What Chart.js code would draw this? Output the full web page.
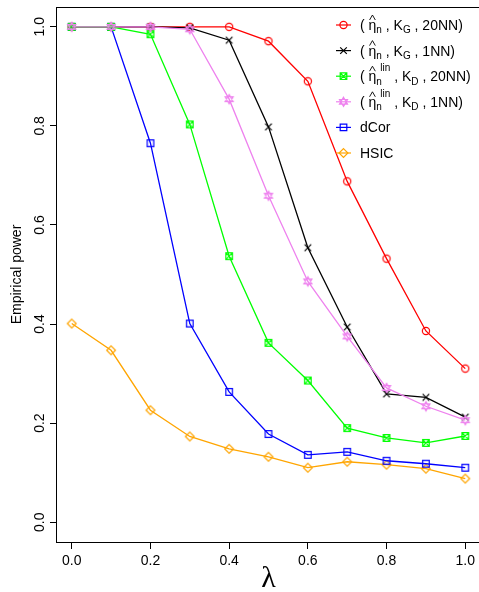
<!DOCTYPE html>
<html>
<head>
<meta charset="utf-8">
<script src="https://cdn.jsdelivr.net/npm/chart.js@4.4.1/dist/chart.umd.min.js"></script>
<style>
  html, body { margin: 0; padding: 0; background: #fff; overflow: hidden; }
  #wrap { width: 500px; height: 592px; }
</style>
</head>
<body>
<div id="wrap"><canvas id="powerChart" width="500" height="592"></canvas></div>
<script>
// valores
const lambdas = [0.0, 0.1, 0.2, 0.3, 0.4, 0.5, 0.6, 0.7, 0.8, 0.9, 1.0];
const etaG20 = [1.0, 1.0, 1.0, 1.0, 1.0, 0.971, 0.890, 0.688, 0.532, 0.386, 0.310];
const etaG1 = [1.0, 1.0, 1.0, 0.998, 0.973, 0.798, 0.554, 0.394, 0.259, 0.252, 0.212];
const linD20 = [1.0, 1.0, 0.985, 0.803, 0.537, 0.362, 0.286, 0.190, 0.170, 0.160, 0.174];
const linD1 = [1.0, 1.0, 1.0, 0.995, 0.854, 0.659, 0.486, 0.375, 0.271, 0.234, 0.206];
const dcor = [1.0, 1.0, 0.765, 0.401, 0.263, 0.178, 0.136, 0.142, 0.124, 0.118, 0.110];
const hsic = [0.401, 0.347, 0.226, 0.173, 0.148, 0.132, 0.110, 0.122, 0.116, 0.108, 0.088];

const xTicks = [0.0, 0.2, 0.4, 0.6, 0.8, 1.0];
const yTicks = [0.0, 0.2, 0.4, 0.6, 0.8, 1.0];

const FONT = '"Liberation Sans", Arial, sans-serif';

// dibuja los simbolos tipo pch de R
function drawMarker(ctx, shape, x, y, color) {
  ctx.save();
  ctx.strokeStyle = color;
  ctx.lineWidth = 1.2;
  ctx.beginPath();
  const r = 3.3;
  if (shape === 'circle') {
    ctx.arc(x, y, 3.6, 0, Math.PI * 2);
  } else if (shape === 'cross') {
    ctx.moveTo(x - r, y - r); ctx.lineTo(x + r, y + r);
    ctx.moveTo(x + r, y - r); ctx.lineTo(x - r, y + r);
  } else if (shape === 'boxX') {
    ctx.rect(x - r, y - r, 2 * r, 2 * r);
    ctx.moveTo(x - r, y - r); ctx.lineTo(x + r, y + r);
    ctx.moveTo(x + r, y - r); ctx.lineTo(x - r, y + r);
  } else if (shape === 'star') {
    ctx.moveTo(x, y - 4.6); ctx.lineTo(x + 4, y + 2.3); ctx.lineTo(x - 4, y + 2.3); ctx.closePath();
    ctx.moveTo(x, y + 4.6); ctx.lineTo(x + 4, y - 2.3); ctx.lineTo(x - 4, y - 2.3); ctx.closePath();
  } else if (shape === 'square') {
    ctx.rect(x - r, y - r, 2 * r, 2 * r);
  } else if (shape === 'diamond') {
    ctx.moveTo(x, y - 4.4); ctx.lineTo(x + 4.4, y); ctx.lineTo(x, y + 4.4); ctx.lineTo(x - 4.4, y); ctx.closePath();
  }
  ctx.stroke();
  ctx.restore();
}

function markerImage(shape, color) {
  const c = document.createElement('canvas');
  c.width = 14; c.height = 14;
  drawMarker(c.getContext('2d'), shape, 7, 7, color);
  return c;
}

const series = [
  { data: etaG20, color: '#FF0000', shape: 'circle', order: 3,
    label: [{ t: '( ' }, { t: 'η', hat: true }, { t: 'n', sub: true }, { t: ' , K' }, { t: 'G', sub: true }, { t: ' , 20NN)' }] },
  { data: etaG1, color: '#000000', shape: 'cross', order: 2,
    label: [{ t: '( ' }, { t: 'η', hat: true }, { t: 'n', sub: true }, { t: ' , K' }, { t: 'G', sub: true }, { t: ' , 1NN)' }] },
  { data: linD20, color: '#00FF00', shape: 'boxX', order: 1,
    label: [{ t: '( ' }, { t: 'η', hat: true }, { t: 'n', sub: true, sup: 'lin' }, { t: ' , K' }, { t: 'D', sub: true }, { t: ' , 20NN)' }] },
  { data: linD1, color: '#EE82EE', shape: 'star', order: 0,
    label: [{ t: '( ' }, { t: 'η', hat: true }, { t: 'n', sub: true, sup: 'lin' }, { t: ' , K' }, { t: 'D', sub: true }, { t: ' , 1NN)' }] },
  { data: dcor, color: '#0000FF', shape: 'square', order: 4, label: [{ t: 'dCor' }] },
  { data: hsic, color: '#FFA500', shape: 'diamond', order: 5, label: [{ t: 'HSIC' }] }
];

function drawLabel(ctx, parts, x, base) {
  ctx.fillStyle = '#000';
  ctx.textAlign = 'left';
  ctx.textBaseline = 'alphabetic';
  for (const p of parts) {
    if (p.sub) {
      ctx.font = '10px ' + FONT;
      ctx.fillText(p.t, x, base + 3.3);
      let w = ctx.measureText(p.t).width;
      if (p.sup) {
        ctx.fillText(p.sup, x + 4, base - 10);
        w = Math.max(w, 4 + ctx.measureText(p.sup).width);
      }
      x += w;
    } else {
      ctx.font = '14px ' + FONT;
      ctx.fillText(p.t, x, base);
      const w = ctx.measureText(p.t).width;
      if (p.hat) {
        ctx.save();
        ctx.strokeStyle = '#000';
        ctx.lineWidth = 0.9;
        ctx.beginPath();
        ctx.moveTo(x + 1, base - 10);
        ctx.lineTo(x + w / 2, base - 15);
        ctx.lineTo(x + w - 1, base - 10);
        ctx.stroke();
        ctx.restore();
      }
      x += w;
    }
  }
}

const decoPlugin = {
  id: 'deco',
  afterDraw(chart) {
    const ctx = chart.ctx;
    const a = chart.chartArea;
    const xs = chart.scales.x, ys = chart.scales.y;
    ctx.save();
    // caja
    ctx.strokeStyle = '#000';
    ctx.lineWidth = 1;
    ctx.strokeRect(a.left + 0.5, a.top + 0.5, a.right - a.left, a.bottom - a.top);

    // etiquetas de ejes
    ctx.fillStyle = '#000';
    ctx.font = '14px ' + FONT;
    ctx.textAlign = 'center';
    ctx.textBaseline = 'alphabetic';
    xTicks.forEach(v => ctx.fillText(v.toFixed(1), xs.getPixelForValue(v), 565));
    yTicks.forEach(v => {
      ctx.save();
      ctx.translate(43.5, ys.getPixelForValue(v));
      ctx.rotate(-Math.PI / 2);
      ctx.fillText(v.toFixed(1), 0, 0);
      ctx.restore();
    });

    // titulos
    ctx.save();
    ctx.translate(20.5, (a.top + a.bottom) / 2);
    ctx.rotate(-Math.PI / 2);
    ctx.fillText('Empirical power', 0, 0);
    ctx.restore();
    ctx.font = '30px "Liberation Serif", serif';
    ctx.fillText('λ', xs.getPixelForValue(0.5), 587);

    // leyenda
    series.forEach((s, i) => {
      const cy = 25 + i * 25.6;
      ctx.strokeStyle = s.color;
      ctx.lineWidth = 1.2;
      ctx.beginPath();
      ctx.moveTo(336, cy);
      ctx.lineTo(351, cy);
      ctx.stroke();
      drawMarker(ctx, s.shape, 343.5, cy, s.color);
      drawLabel(ctx, s.label, 360, cy + 5);
    });
    ctx.restore();
  }
};

const fixedTicks = vals => scale => { scale.ticks = vals.map(v => ({ value: v })); };

new Chart(document.getElementById('powerChart'), {
  type: 'line',
  data: {
    labels: lambdas,
    datasets: series.map(s => ({
      data: s.data.map((v, i) => ({ x: lambdas[i], y: v })),
      borderColor: s.color,
      backgroundColor: s.color,
      borderWidth: 1.3,
      tension: 0,
      fill: false,
      order: s.order,
      pointStyle: markerImage(s.shape, s.color),
      pointRadius: 4,
      pointHoverRadius: 4
    }))
  },
  options: {
    responsive: false,
    devicePixelRatio: 1,
    animation: false,
    layout: { padding: { left: 0, top: 7, right: 19, bottom: 0 } },
    plugins: { legend: { display: false }, tooltip: { enabled: false } },
    scales: {
      x: {
        type: 'linear',
        min: -0.04,
        max: 1.04,
        afterBuildTicks: fixedTicks(xTicks),
        afterFit: scale => { scale.height = 50; },
        ticks: { display: false },
        border: { display: false },
        grid: { drawOnChartArea: false, drawTicks: true, tickLength: 7, color: '#000', tickColor: '#000', lineWidth: 1 }
      },
      y: {
        type: 'linear',
        min: -0.04,
        max: 1.04,
        afterBuildTicks: fixedTicks(yTicks),
        afterFit: scale => { scale.width = 56; },
        ticks: { display: false },
        border: { display: false },
        grid: { drawOnChartArea: false, drawTicks: true, tickLength: 6, color: '#000', tickColor: '#000', lineWidth: 1 }
      }
    }
  },
  plugins: [decoPlugin]
});
</script>
</body>
</html>
